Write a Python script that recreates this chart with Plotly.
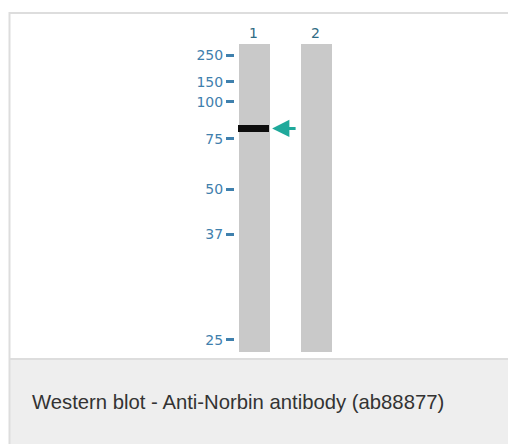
import plotly.graph_objects as go

# ---------------- data (read from the blot) ----------------
lane_labels = ["1", "2"]
lane_ids = [1, 2]
lane_length = [100, 100]                      # relative migration length of each lane (%)
marker_kda = ["250", "150", "100", "75", "50", "37", "25"]
marker_migration = [3.6, 12.3, 18.8, 30.8, 47.1, 61.7, 96.1]   # relative migration (%)
band_lane = [1]
band_migration = [27.4]                       # detected band (~80 kDa) in lane 1
caption = "Western blot - Anti-Norbin antibody (ab88877)"

# ---------------- layout constants ----------------
W, H = 508, 444
LANE_W = 0.5
BLUE = "#3f80ad"
LANE_NUM = "#2f6b84"
TEAL = "#1fa99b"


def px_x(p):
    return p / W


def px_y(p):
    return 1 - p / H


fig = go.Figure()

# lanes
fig.add_trace(go.Bar(
    x=lane_ids, y=lane_length, base=[0] * len(lane_ids), width=LANE_W,
    marker=dict(color="#c9c9c9", line=dict(width=0)),
    hoverinfo="skip", showlegend=False,
))

# bands
for ln, mig in zip(band_lane, band_migration):
    fig.add_trace(go.Scatter(
        x=[ln - LANE_W / 2, ln + LANE_W / 2], y=[mig, mig],
        mode="lines", line=dict(color="#0d0d0d", width=7),
        hoverinfo="skip", showlegend=False,
    ))
    fig.add_annotation(
        x=ln + LANE_W / 2 + 0.05, y=mig, xref="x", yref="y",
        ax=25, ay=0, text="", showarrow=True,
        arrowhead=2, arrowsize=1.15, arrowwidth=3, arrowcolor=TEAL,
    )

# frame and caption box
fig.add_shape(type="rect", xref="paper", yref="paper",
              x0=px_x(10), x1=1.05, y0=px_y(359), y1=-0.05,
              fillcolor="#eeeeee", line=dict(width=0), layer="below")
fig.add_shape(type="line", xref="paper", yref="paper",
              x0=px_x(9.5), x1=1.05, y0=px_y(359), y1=px_y(359),
              line=dict(color="#dddddd", width=2))
fig.add_shape(type="line", xref="paper", yref="paper",
              x0=px_x(9.5), x1=1.05, y0=px_y(13), y1=px_y(13),
              line=dict(color="#dddddd", width=2))
fig.add_shape(type="line", xref="paper", yref="paper",
              x0=px_x(9.5), x1=px_x(9.5), y0=px_y(12), y1=-0.05,
              line=dict(color="#dddddd", width=2))

fig.add_annotation(
    x=px_x(30), y=px_y(402), xref="paper", yref="paper",
    xanchor="left", yanchor="middle", showarrow=False, text=caption,
    font=dict(family="Liberation Sans, Arial, sans-serif", size=20.3, color="#333333"),
)

fig.update_layout(
    width=W, height=H, autosize=False,
    margin=dict(l=0, r=0, t=0, b=0, pad=0),
    paper_bgcolor="white", plot_bgcolor="rgba(0,0,0,0)",
    bargap=0,
    xaxis=dict(
        domain=[px_x(222.5), px_x(346.5)], range=[0.5, 2.5],
        side="top", tickvals=lane_ids, ticktext=lane_labels,
        ticks="", showgrid=False, zeroline=False, showline=False,
        ticklabelstandoff=2,
        tickfont=dict(family="DejaVu Sans, sans-serif", size=14, color=LANE_NUM),
        fixedrange=True,
    ),
    yaxis=dict(
        domain=[px_y(352), px_y(44)], range=[100, 0],
        anchor="free", position=px_x(234),
        tickvals=marker_migration, ticktext=marker_kda,
        ticks="outside", ticklen=8, tickwidth=3, tickcolor=BLUE,
        ticklabelstandoff=0,
        showgrid=False, zeroline=False, showline=False,
        tickfont=dict(family="DejaVu Sans, sans-serif", size=14, color=BLUE),
        fixedrange=True,
    ),
)

fig.write_html(
    "out.html",
    config={"displayModeBar": False},
    post_script="document.body.style.margin='0';document.body.style.padding='0';",
)
